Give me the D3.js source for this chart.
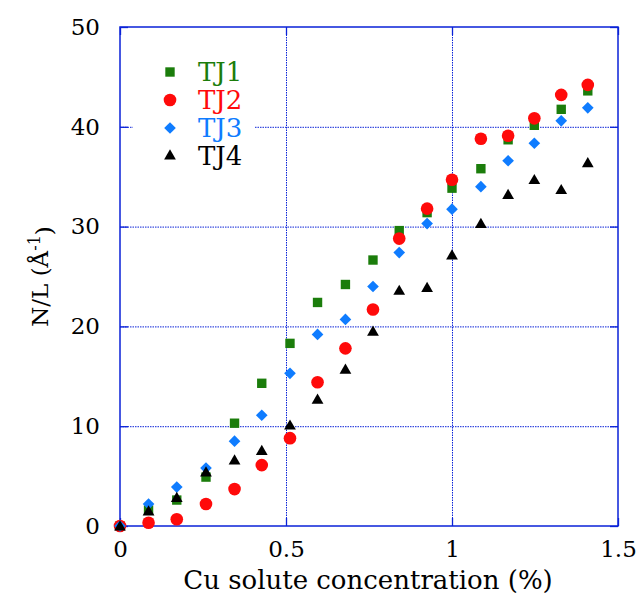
<!DOCTYPE html>
<html>
<head>
<meta charset="utf-8">
<script src="https://cdn.jsdelivr.net/npm/d3@7"></script>
<style>
  html, body { margin: 0; padding: 0; background: #fff; }
  svg text { font-family: "DejaVu Serif", serif; }
</style>
</head>
<body>
<svg id="chart" width="641" height="602"></svg>
<script>
// Cu solute concentration (%) for each measurement
const concentration = [0, 0.086, 0.171, 0.259, 0.345, 0.427, 0.512, 0.595, 0.679, 0.762, 0.841, 0.925, 1.0, 1.087, 1.169, 1.248, 1.329, 1.409];

// N/L values (Å^-1) per junction
const tj1 = [0, 1.6, 2.6, 4.9, 10.3, 14.3, 18.3, 22.4, 24.2, 26.65, 29.6, 31.4, 33.85, 35.8, 38.7, 40.15, 41.75, 43.6];
const tj2 = [0, 0.33, 0.67, 2.2, 3.7, 6.1, 8.8, 14.4, 17.8, 21.7, 28.8, 31.8, 34.7, 38.8, 39.1, 40.85, 43.2, 44.2];
const tj3 = [0, 2.2, 3.9, 5.8, 8.5, 11.1, 15.3, 19.2, 20.7, 24.0, 27.4, 30.3, 31.75, 34.0, 36.6, 38.35, 40.6, 41.9];
const tj4 = [0, 1.5, 2.85, 5.4, 6.6, 7.55, 10.1, 12.7, 15.7, 19.5, 23.6, 23.9, 27.15, 30.3, 33.2, 34.7, 33.7, 36.4];

const seriesNames = ["TJ1", "TJ2", "TJ3", "TJ4"];
const seriesValues = [tj1, tj2, tj3, tj4];
const seriesColors = ["#1b7d0b", "#ff0a0a", "#0f7cff", "#000000"];
// square, circle, diamond (rotated square), triangle
const seriesSymbols = [d3.symbolSquare, d3.symbolCircle, d3.symbolSquare, d3.symbolTriangle];
const seriesRotate = [0, 0, 45, 0];
const seriesSizes = [88, 125, 68, 60];

const xTicks = [0, 0.5, 1, 1.5];
const yTicks = [0, 10, 20, 30, 40, 50];

const svg = d3.select("#chart");
const margin = { left: 120, right: 23, top: 27, bottom: 76 };
const W = 641, H = 602;

const x = d3.scaleLinear().domain([0, 1.5]).range([margin.left, W - margin.right]);
const y = d3.scaleLinear().domain([0, 50]).range([H - margin.bottom, margin.top]);

const axisColor = "#0a22d8";
const g = svg.append("g");

// dotted grid lines
g.append("g").selectAll("line").data(xTicks.slice(1, -1)).join("line")
  .attr("x1", d => x(d) + 0.5).attr("x2", d => x(d) + 0.5)
  .attr("y1", y(0)).attr("y2", y(50))
  .attr("stroke", axisColor).attr("stroke-width", 1).attr("stroke-dasharray", "1.5,1");
g.append("g").selectAll("line").data(yTicks.slice(1, -1)).join("line")
  .attr("y1", d => y(d) + 0.5).attr("y2", d => y(d) + 0.5)
  .attr("x1", x(0)).attr("x2", x(1.5))
  .attr("stroke", axisColor).attr("stroke-width", 1).attr("stroke-dasharray", "1.5,1");

// frame
g.append("rect")
  .attr("x", x(0)).attr("y", y(50))
  .attr("width", x(1.5) - x(0)).attr("height", y(0) - y(50))
  .attr("fill", "none").attr("stroke", axisColor).attr("stroke-width", 1.5);

// axes with inward ticks on all four sides
const tickLen = 8;
const axisStyle = sel => {
  sel.select(".domain").remove();
  sel.selectAll(".tick line").attr("stroke", axisColor).attr("stroke-width", 1.3);
  sel.selectAll(".tick text").attr("fill", "#000").style("font-family", "DejaVu Serif, serif");
};

g.append("g").attr("transform", `translate(0,${y(0)})`)
  .call(d3.axisBottom(x).tickValues(xTicks).tickFormat(d3.format("")).tickSizeInner(-tickLen).tickPadding(15))
  .call(axisStyle)
  .call(s => s.selectAll(".tick text").attr("font-size", 23).attr("dy", "0.71em"));
g.append("g").attr("transform", `translate(0,${y(50)})`)
  .call(d3.axisTop(x).tickValues(xTicks).tickFormat("").tickSizeInner(-tickLen))
  .call(axisStyle);
g.append("g").attr("transform", `translate(${x(0)},0)`)
  .call(d3.axisLeft(y).tickValues(yTicks).tickFormat(d3.format("")).tickSizeInner(-tickLen).tickPadding(20))
  .call(axisStyle)
  .call(s => s.selectAll(".tick text").attr("font-size", 23));
g.append("g").attr("transform", `translate(${x(1.5)},0)`)
  .call(d3.axisRight(y).tickValues(yTicks).tickFormat("").tickSizeInner(-tickLen))
  .call(axisStyle);

// legend (white box hides the grid behind it)
const legend = g.append("g");
legend.append("rect")
  .attr("x", 133).attr("y", 56).attr("width", 121).attr("height", 116)
  .attr("fill", "#fff");
seriesNames.forEach((name, i) => {
  const ly = 72 + i * 28;
  const sym = d3.symbol().type(seriesSymbols[i]).size(seriesSizes[i]);
  legend.append("path").attr("d", sym)
    .attr("transform", `translate(170,${ly}) rotate(${seriesRotate[i]})`)
    .attr("fill", seriesColors[i]);
  legend.append("text").attr("x", 198).attr("y", ly).attr("dy", "0.36em")
    .attr("font-size", 26).attr("fill", seriesColors[i]).text(name);
});

// data markers
seriesValues.forEach((vals, i) => {
  const sym = d3.symbol().type(seriesSymbols[i]).size(seriesSizes[i]);
  const off = seriesSymbols[i] === d3.symbolTriangle ? 1 : 0;
  g.append("g").selectAll("path").data(vals).join("path")
    .attr("d", sym)
    .attr("transform", (d, j) =>
      `translate(${x(concentration[j])},${y(d) + off}) rotate(${seriesRotate[i]})`)
    .attr("fill", seriesColors[i]);
});

// axis titles
svg.append("text")
  .attr("x", (x(0) + x(1.5)) / 2 - 1).attr("y", 589)
  .attr("text-anchor", "middle").attr("font-size", 26).attr("fill", "#000")
  .text("Cu solute concentration (%)");

const yt = svg.append("text")
  .attr("transform", `translate(48,${(y(0) + y(50)) / 2}) rotate(-90)`)
  .attr("text-anchor", "middle").attr("font-size", 23).attr("fill", "#000");
yt.append("tspan").text("N/L (Å");
yt.append("tspan").attr("dy", "-0.5em").attr("font-size", 16).text("-1");
yt.append("tspan").attr("dy", "0.5em").text(")");
</script>
</body>
</html>
